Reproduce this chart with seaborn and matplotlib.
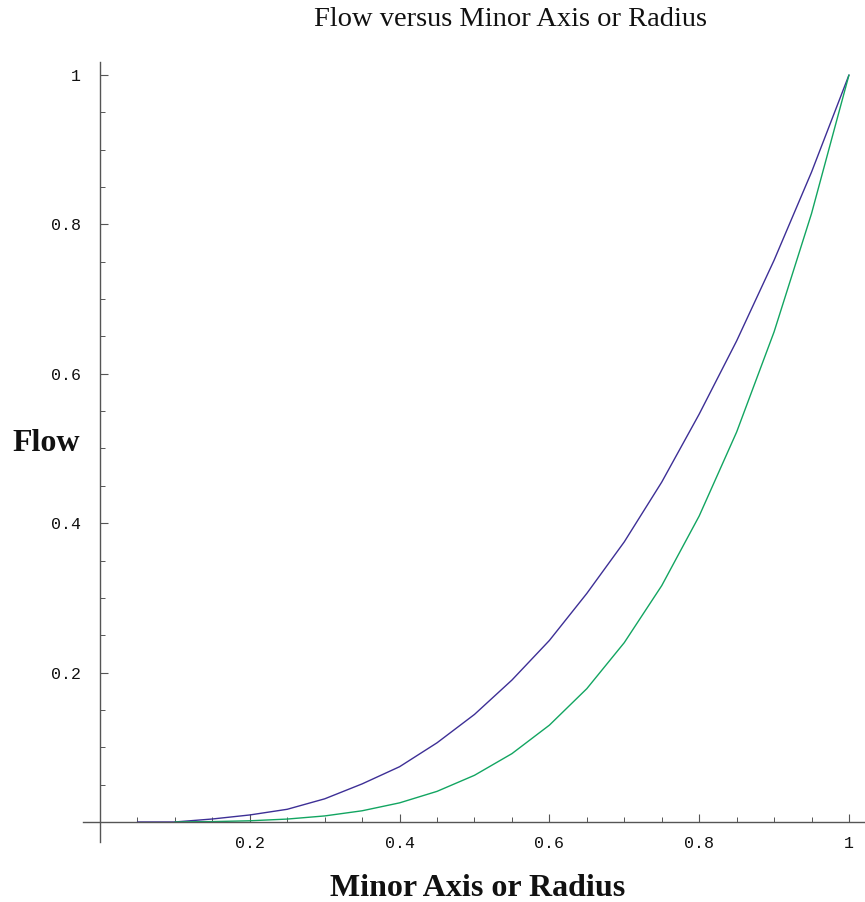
import numpy as np
import pandas as pd
import matplotlib
matplotlib.use("Agg")
import matplotlib.pyplot as plt
import seaborn as sns
from matplotlib.ticker import FixedLocator, FixedFormatter

# Flow through an elliptical duct (minor axis) and a circular pipe (radius)
minor_axis = [0.05, 0.10, 0.15, 0.20, 0.25, 0.30, 0.35, 0.40, 0.45, 0.50,
              0.55, 0.60, 0.65, 0.70, 0.75, 0.80, 0.85, 0.90, 0.95, 1.00]
flow_ellipse = [0.0, 0.0, 0.004, 0.0094, 0.017, 0.031, 0.051, 0.074, 0.106, 0.144,
                0.19, 0.243, 0.306, 0.375, 0.455, 0.546, 0.644, 0.752, 0.87, 1.0]

radius = [0.10, 0.15, 0.20, 0.25, 0.30, 0.35, 0.40, 0.45, 0.50,
          0.55, 0.60, 0.65, 0.70, 0.75, 0.80, 0.85, 0.90, 0.95, 1.00]
flow_circle = [0.0001, 0.0005, 0.0016, 0.0039, 0.0081, 0.015, 0.0256, 0.041, 0.0625,
               0.0915, 0.1296, 0.1785, 0.2401, 0.3164, 0.4096, 0.522, 0.6561, 0.8145, 1.0]

x_ticks = [0.2, 0.4, 0.6, 0.8, 1.0]
x_tick_labels = ["0.2", "0.4", "0.6", "0.8", "1"]
y_ticks = [0.2, 0.4, 0.6, 0.8, 1.0]
y_tick_labels = ["0.2", "0.4", "0.6", "0.8", "1"]
minor_ticks = [0.05, 0.10, 0.15, 0.25, 0.30, 0.35, 0.45, 0.50, 0.55,
               0.65, 0.70, 0.75, 0.85, 0.90, 0.95]

df = pd.concat([
    pd.DataFrame({"x": minor_axis, "flow": flow_ellipse, "shape": "ellipse"}),
    pd.DataFrame({"x": radius, "flow": flow_circle, "shape": "circle"}),
], ignore_index=True)

sns.set_theme(style="white")
plt.rcParams["font.family"] = ["Liberation Serif", "DejaVu Serif"]

W, H = 865, 902
fig = plt.figure(figsize=(W / 100, H / 100), dpi=100)
ax = fig.add_axes([83 / W, (H - 842) / H, (W - 83) / W, (842 - 62) / H])

sns.lineplot(data=df, x="x", y="flow", hue="shape",
             palette={"ellipse": "#3d2f96", "circle": "#12a561"},
             linewidth=1.0, legend=False, sort=False, estimator=None, ax=ax)

ax.set_xlim(-0.0227, 1.0214)
ax.set_ylim(-0.0268, 1.0174)

axis_color = "#555555"
for side in ("top", "right"):
    ax.spines[side].set_visible(False)
ax.spines["left"].set_position(("data", 0))
ax.spines["bottom"].set_position(("data", 0))
for side in ("left", "bottom"):
    ax.spines[side].set_color(axis_color)
    ax.spines[side].set_linewidth(1.0)

ax.xaxis.set_major_locator(FixedLocator(x_ticks))
ax.xaxis.set_major_formatter(FixedFormatter(x_tick_labels))
ax.yaxis.set_major_locator(FixedLocator(y_ticks))
ax.yaxis.set_major_formatter(FixedFormatter(y_tick_labels))
ax.xaxis.set_minor_locator(FixedLocator(minor_ticks))
ax.yaxis.set_minor_locator(FixedLocator(minor_ticks))

ax.tick_params(which="both", bottom=True, left=True, top=False, right=False)
ax.tick_params(which="major", direction="in", length=6, width=0.8, color=axis_color)
ax.tick_params(which="minor", direction="in", length=3.5, width=0.7, color=axis_color)
ax.tick_params(axis="x", which="major", pad=10)
ax.tick_params(axis="y", which="major", pad=14)
for lab in ax.get_xticklabels() + ax.get_yticklabels():
    lab.set_fontfamily(["Liberation Mono", "DejaVu Sans Mono"])
    lab.set_fontsize(12)
    lab.set_color("#111111")

ax.set_xlabel("")
ax.set_ylabel("")
fig.text(510 / W, 1 - 19 / H, "Flow versus Minor Axis or Radius",
         ha="center", va="center", fontsize=20.5, color="#111111")
fig.text(478 / W, 1 - 888 / H, "Minor Axis or Radius",
         ha="center", va="center", fontsize=23, fontweight="bold", color="#111111")
fig.text(46 / W, 1 - 444 / H, "Flow",
         ha="center", va="center", fontsize=23, fontweight="bold", color="#111111")

fig.savefig("out.png", dpi=100, facecolor="white")
